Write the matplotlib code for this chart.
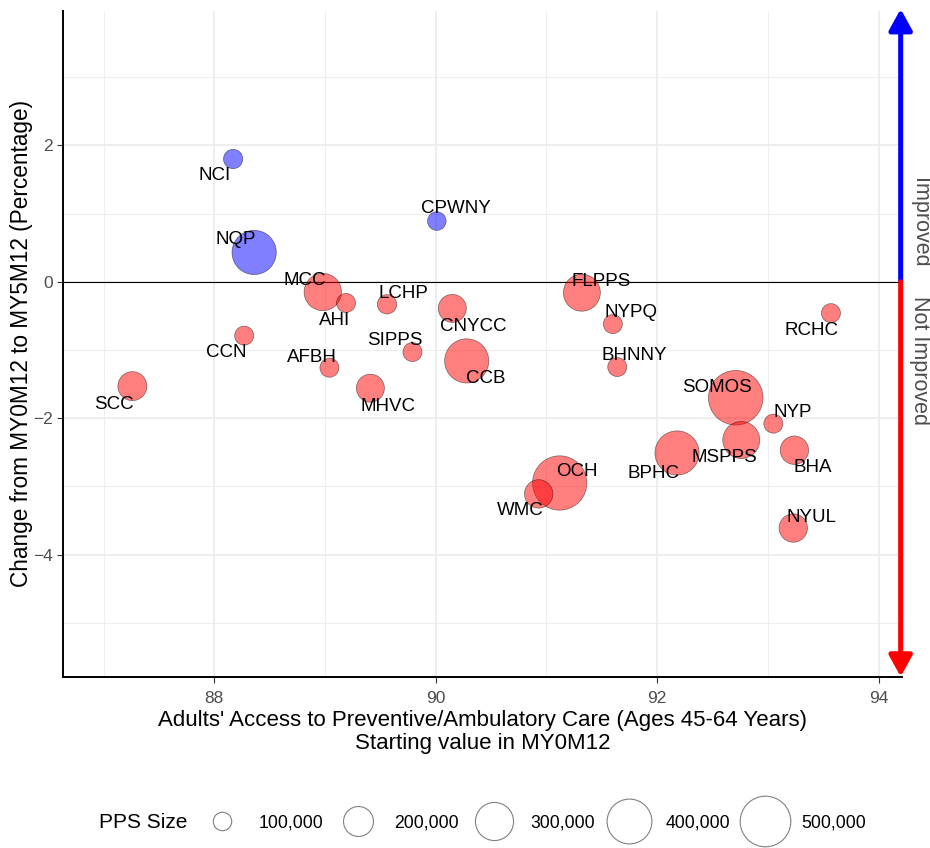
import numpy as np
import matplotlib
matplotlib.use('Agg')
import matplotlib.pyplot as plt
from matplotlib.ticker import MultipleLocator
from matplotlib.lines import Line2D

plt.rcParams['font.family'] = ['Liberation Sans', 'DejaVu Sans']

# data: PPS, starting value (MY0M12), change MY0M12 -> MY5M12, PPS size
pps = ['NCI', 'CPWNY', 'NQP', 'MCC', 'AHI', 'LCHP', 'CNYCC', 'CCN', 'SIPPS',
       'CCB', 'AFBH', 'MHVC', 'SCC', 'FLPPS', 'NYPQ', 'RCHC', 'BHNNY', 'SOMOS',
       'NYP', 'MSPPS', 'BHA', 'BPHC', 'OCH', 'WMC', 'NYUL']
start_val = [88.17, 90.01, 88.36, 88.98, 89.19, 89.56, 90.15, 88.27, 89.79,
             90.28, 89.04, 89.41, 87.26, 91.32, 91.60, 93.57, 91.64, 92.71,
             93.05, 92.76, 93.24, 92.18, 91.12, 90.93, 93.23]
change = [1.80, 0.89, 0.43, -0.15, -0.31, -0.33, -0.39, -0.79, -1.03,
          -1.16, -1.26, -1.56, -1.53, -0.16, -0.62, -0.46, -1.25, -1.70,
          -2.08, -2.32, -2.47, -2.51, -2.95, -3.11, -3.61]
pps_size = [106000, 101000, 392000, 290000, 104000, 106000, 180000, 104000, 104000,
            390000, 104000, 180000, 190000, 285000, 104000, 104000, 104000, 575000,
            104000, 285000, 184000, 390000, 570000, 184000, 184000]
legend_sizes = [100000, 200000, 300000, 400000, 500000]
legend_labels = ['100,000', '200,000', '300,000', '400,000', '500,000']

# label placement (offset in px, y down)
lab_off = [(-18, 15), (19, -14), (-18, -14), (-18, -13), (-11, 16), (16, -12),
           (21, 17), (-18, 15), (-18, -13), (19, 16), (-18, -12), (18, 17),
           (-18, 17), (19, -13), (18, -13), (-19, 16), (17, -13), (-19, -12),
           (19, -13), (-17, 16), (18, 16), (-24, 19), (17, -13), (-18, 15),
           (18, -12)]

def radius_px(v):
    # area grows linearly with PPS size
    return np.sqrt(np.maximum(-54 + 139 * np.asarray(v) / 1e5, 1))

def marker_area(v):
    return (2 * radius_px(v) * 0.72) ** 2

x = np.array(start_val)
y = np.array(change)
cols = np.where(y > 0, '#0000FF', '#FF0000')

W, H = 930, 848
fig = plt.figure(figsize=(W / 100, H / 100), dpi=100)
ax = fig.add_axes([63.3 / W, (H - 676.7) / H, (902 - 63.3) / W, (676.7 - 11) / H])

ax.set_xlim(86.636, 94.212)
ax.set_ylim(-5.79, 3.97)
ax.xaxis.set_major_locator(MultipleLocator(2))
ax.xaxis.set_minor_locator(MultipleLocator(1))
ax.yaxis.set_major_locator(MultipleLocator(2))
ax.yaxis.set_minor_locator(MultipleLocator(1))
ax.grid(which='major', color='#EBEBEB', lw=1.2, zorder=0)
ax.grid(which='minor', color='#EBEBEB', lw=0.6, zorder=0)
ax.set_axisbelow(True)
for s in ['top', 'right']:
    ax.spines[s].set_visible(False)
for s in ['left', 'bottom']:
    ax.spines[s].set_linewidth(1.4)
    ax.spines[s].set_color('black')
ax.tick_params(which='major', length=4, width=0.8, color='#333333',
               labelsize=12.5, labelcolor='#4D4D4D')
ax.tick_params(axis='x', which='major', pad=6.5)
ax.tick_params(axis='y', which='major', pad=3.5)
ax.tick_params(which='minor', length=0)

ax.axhline(0, color='black', lw=0.8, zorder=1.5)

ax.scatter(x, y, s=marker_area(pps_size), c=cols, alpha=0.5,
           edgecolors='black', linewidths=0.5, zorder=3)

for name, xi, yi, (dx, dy) in zip(pps, x, y, lab_off):
    ax.annotate(name, (xi, yi), xytext=(dx * 0.72, -dy * 0.72 - 1),
                textcoords='offset points', ha='center', va='center',
                fontsize=13.5, color='black', zorder=4)

# improved / not improved arrows
ax_x = 94.2
ax.annotate('', xy=(ax_x, 4.0), xytext=(ax_x, 0), annotation_clip=False,
            arrowprops=dict(arrowstyle='-|>,head_length=0.4,head_width=0.22',
                            color='#0000FF', lw=3.6, shrinkA=0, shrinkB=0,
                            mutation_scale=32))
ax.annotate('', xy=(ax_x, -5.79), xytext=(ax_x, 0), annotation_clip=False,
            arrowprops=dict(arrowstyle='-|>,head_length=0.4,head_width=0.22',
                            color='#FF0000', lw=3.6, shrinkA=0, shrinkB=0,
                            mutation_scale=32))
ax.annotate('Improved', (ax_x, 0), xytext=(13.5, 10.5), textcoords='offset points',
            rotation=-90, ha='center', va='bottom', fontsize=15.5,
            color='#4D4D4D', annotation_clip=False)
ax.annotate('Not Improved', (ax_x, 0), xytext=(13.5, -10), textcoords='offset points',
            rotation=-90, ha='center', va='top', fontsize=15.5,
            color='#4D4D4D', annotation_clip=False)

ax.set_xlabel("Adults' Access to Preventive/Ambulatory Care (Ages 45-64 Years)\n"
              "Starting value in MY0M12", fontsize=16, linespacing=1.1, labelpad=3)
ax.set_ylabel('Change from MY0M12 to MY5M12 (Percentage)', fontsize=16.3, labelpad=0)

# size legend
handles = [Line2D([], [], ls='', marker='o', markersize=2 * radius_px(v) * 0.72,
                  markerfacecolor='none', markeredgecolor='#808080',
                  markeredgewidth=0.8) for v in legend_sizes]
fig.legend(handles, legend_labels, loc='center', bbox_to_anchor=(534 / W, 1 - 823 / H),
           ncol=5, frameon=False, fontsize=12.7, handlelength=2.3,
           handletextpad=0.92, columnspacing=0.8, borderpad=0, borderaxespad=0)
fig.text(99.3 / W, 1 - 823 / H, 'PPS Size', ha='left', va='center', fontsize=15)

fig.savefig('out.png', dpi=100, facecolor='white')
